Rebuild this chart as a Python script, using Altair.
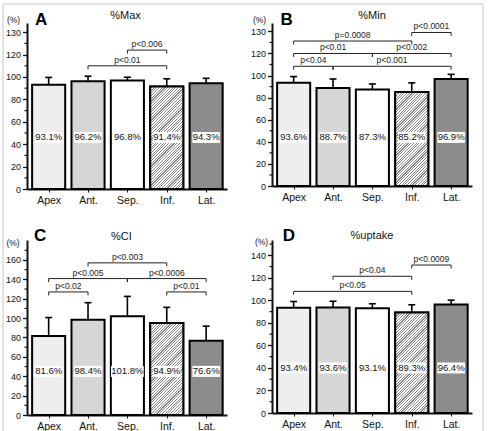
import json
import altair as alt
import pandas as pd

# Segments of the left ventricle and their bar fills
segments = ["Apex", "Ant.", "Sep.", "Inf.", "Lat."]
fills = ["#eeeeee", "#d6d6d6", "#ffffff", "#ffffff", "#8c8c8c"]

# Mean (%) and SD for each index
max_mean = [93.1, 96.2, 96.8, 91.4, 94.3]
max_sd = [6.5, 4.5, 3.0, 7.0, 4.5]
min_mean = [93.6, 88.7, 87.3, 85.2, 96.9]
min_sd = [5.5, 8.2, 5.1, 8.2, 4.2]
ci_mean = [81.6, 98.4, 101.8, 94.9, 76.6]
ci_sd = [19.0, 17.5, 20.6, 16.2, 15.1]
uptake_mean = [93.4, 93.6, 93.1, 89.3, 96.4]
uptake_sd = [5.6, 5.6, 3.9, 6.8, 3.8]

# Significance brackets: (from, to, level, label)
max_pairs = [("Ant.", "Inf.", 110, "p<0.01"), ("Sep.", "Inf.", 124, "p<0.006")]
min_pairs = [("Apex", "Ant.", 108.4, "p<0.04"), ("Ant.", "Lat.", 108.4, "p<0.001"),
             ("Apex", "Sep.", 120, "p<0.01"), ("Sep.", "Lat.", 120, "p<0.002"),
             ("Apex", "Inf.", 131.3, "p=0.0008"), ("Inf.", "Lat.", 139, "p<0.0001")]
ci_pairs = [("Apex", "Ant.", 127, "p<0.02"), ("Inf.", "Lat.", 127, "p<0.01"),
            ("Apex", "Sep.", 140.8, "p<0.005"), ("Sep.", "Lat.", 140.8, "p<0.0006"),
            ("Ant.", "Inf.", 157, "p<0.003")]
uptake_pairs = [("Apex", "Inf.", 108, "p<0.05"), ("Ant.", "Inf.", 121.4, "p<0.04"),
                ("Inf.", "Lat.", 131.4, "p<0.0009")]

FONT = "Liberation Sans"
INK = "#111111"
PLOT_W = 200
X_DOMAIN = [-0.55, 4.53]
X_PPU = PLOT_W / (X_DOMAIN[1] - X_DOMAIN[0])
HALF = 0.42  # half bar width, in category units


def hatch(width_px, height_px, pitch=2.7, ink=0.42, color="#8a8a8a"):
    """Diagonal '///' hatching built from a hard-stop linear gradient."""
    n = max(1, round((width_px + height_px) / pitch))
    k = (width_px + height_px) / (width_px ** 2 + height_px ** 2)
    stops = []
    for j in range(n):
        a, b, c = j / n, (j + 1 - ink) / n, (j + 1) / n
        stops += [alt.GradientStop(color="#ffffff", offset=a),
                  alt.GradientStop(color="#ffffff", offset=b),
                  alt.GradientStop(color=color, offset=b),
                  alt.GradientStop(color=color, offset=c)]
    return alt.LinearGradient(gradient="linear", stops=stops,
                              x1=0, y1=0, x2=k * width_px, y2=k * height_px)


def panel(means, sds, pairs, ymax, height, top_tick, relabel, label_y,
          letter, letter_xy, title, title_xy, pct_xy, frame=False):
    ppu = height / ymax
    idx = {s: i for i, s in enumerate(segments)}

    df = pd.DataFrame({"seg": segments, "i": list(range(5)),
                       "mean": means, "sd": sds})
    df["top"] = df["mean"] + df["sd"]
    df["lo"] = df["i"] - HALF
    df["hi"] = df["i"] + HALF
    df["cap1"] = df["i"] - 3.5 / X_PPU
    df["cap2"] = df["i"] + 3.5 / X_PPU
    df["txt"] = [f"{m:.1f}%" for m in means]
    df["bx1"] = [i - (5.3 * len(t) + 1) / 2 / X_PPU for i, t in zip(df["i"], df["txt"])]
    df["bx2"] = [i + (5.3 * len(t) + 1) / 2 / X_PPU for i, t in zip(df["i"], df["txt"])]
    df["ly"] = label_y
    df["by1"] = label_y - 5.5 / ppu
    df["by2"] = label_y + 5.5 / ppu

    xscale = alt.Scale(domain=X_DOMAIN, nice=False, zero=False)
    yscale = alt.Scale(domain=[0, ymax], nice=False, zero=True)

    relabel_from, relabel_to = relabel if relabel else (-1, "")
    xaxis = alt.Axis(values=list(range(5)),
                     labelExpr=f"{json.dumps(segments)}[datum.value]",
                     title=None, grid=False, labelFlush=False,
                     labelFont=FONT, labelFontSize=10.5, labelColor=INK,
                     labelPadding=3, tickSize=3, tickColor=INK, tickWidth=1,
                     domainColor=INK, domainWidth=2)
    yaxis = alt.Axis(values=list(range(0, top_tick + 1, 20)),
                     labelExpr=f"datum.value == {relabel_from} ? '{relabel_to}' : datum.label",
                     tickSize=4.5, grid=False, labelFlush=False,
                     labelFont=FONT, labelFontSize=9, labelColor=INK, labelPadding=2,
                     tickColor=INK, tickWidth=1.3, domainColor=INK, domainWidth=2,
                     title="(%)", titleAngle=0, titleX=pct_xy[0], titleY=pct_xy[1],
                     titleAlign="center", titleBaseline="middle", titleFont=FONT,
                     titleFontSize=8.5, titleFontWeight="normal", titleColor=INK)

    def X(field):
        return alt.X(field, type="quantitative", scale=xscale, axis=xaxis)

    def Y(field):
        return alt.Y(field, type="quantitative", scale=yscale, axis=yaxis)

    base = alt.Chart(df)
    bars = base.mark_bar(stroke="black", strokeWidth=2, strokeJoin="miter").encode(
        x=X("lo"), x2="hi", y=Y("mean"), y2=alt.datum(0),
        color=alt.Color("seg:N", scale=alt.Scale(domain=segments, range=fills), legend=None),
    )

    inf = df[df["seg"] == "Inf."]
    inf_h = float(inf["mean"].iloc[0]) * ppu
    inf_bar = alt.Chart(inf).mark_bar(
        fill=hatch(2 * HALF * X_PPU, inf_h), stroke="black", strokeWidth=2, strokeJoin="miter"
    ).encode(x=X("lo"), x2="hi", y=Y("mean"), y2=alt.datum(0))

    boxes = base.mark_rect(fill="white").encode(x=X("bx1"), x2="bx2", y=Y("by1"), y2="by2")
    values = base.mark_text(font=FONT, fontSize=9.5, color=INK, baseline="middle").encode(
        x=X("i"), y=Y("ly"), text="txt:N")

    err = base.mark_rule(color="black", strokeWidth=1.6).encode(x=X("i"), y=Y("mean"), y2="top")
    caps = base.mark_rule(color="black", strokeWidth=1.6).encode(x=X("cap1"), x2="cap2", y=Y("top"))

    # minor ticks on the value axis, halfway between the labelled ones
    minor = pd.DataFrame({"v": list(range(10, top_tick + 1, 20))})
    minor_ticks = alt.Chart(minor).mark_rule(color=INK, strokeWidth=1.2).encode(
        x=alt.value(-2.5), x2=alt.value(0), y=Y("v"))

    br = pd.DataFrame({
        "x1": [idx[a] for a, b, lv, t in pairs],
        "x2": [idx[b] for a, b, lv, t in pairs],
        "lvl": [lv for a, b, lv, t in pairs],
        "txt": [t for a, b, lv, t in pairs],
    })
    br["mid"] = (br["x1"] + br["x2"]) / 2
    drop = 3.5 / ppu
    ends = pd.DataFrame({
        "x": list(br["x1"]) + list(br["x2"]),
        "lvl": list(br["lvl"]) * 2,
    })
    ends["low"] = ends["lvl"] - drop

    br_lines = alt.Chart(br).mark_rule(color="#222222", strokeWidth=1).encode(
        x=X("x1"), x2="x2", y=Y("lvl"))
    br_ends = alt.Chart(ends).mark_rule(color="#222222", strokeWidth=1).encode(
        x=X("x"), y=Y("lvl"), y2="low")
    br_text = alt.Chart(br).mark_text(font=FONT, fontSize=8.5, color="#222222",
                                      baseline="bottom", dy=-1).encode(
        x=X("mid"), y=Y("lvl"), text="txt:N")

    one = alt.Chart(pd.DataFrame({"k": [0]}))
    letter_mark = one.mark_text(text=letter, font=FONT, fontSize=17, fontWeight="bold",
                                color="black", align="left", baseline="alphabetic").encode(
        x=alt.value(letter_xy[0]), y=alt.value(letter_xy[1]))
    title_mark = one.mark_text(text=title, font=FONT, fontSize=11, color=INK,
                               align="center", baseline="middle").encode(
        x=alt.value(title_xy[0]), y=alt.value(title_xy[1]))

    layers = [bars, inf_bar, boxes, values, err, caps, minor_ticks,
              br_lines, br_ends, br_text, letter_mark, title_mark]

    if frame:
        edge = dict(color="#c6c6c6", strokeWidth=1)
        layers += [
            one.mark_rule(**edge).encode(x=alt.value(-24), y=alt.value(-19), y2=alt.value(408)),
            one.mark_rule(**edge).encode(x=alt.value(-24), x2=alt.value(456), y=alt.value(-19)),
            one.mark_rule(**edge).encode(x=alt.value(456), y=alt.value(-19), y2=alt.value(408)),
        ]

    return alt.layer(*layers).properties(width=PLOT_W, height=height)


pA = panel(max_mean, max_sd, max_pairs, 148.2, 166, 140, (140, "130"), 46,
           "A", (8, 2), "%Max", (98.5, -7.3), (-14, -3.7), frame=True)
pB = panel(min_mean, min_sd, min_pairs, 147.6, 163, 140, (140, "130"), 44,
           "B", (8.5, 2), "%Min", (100, -7.3), (-13, -3.7))
pC = panel(ci_mean, ci_sd, ci_pairs, 180.6, 175, 170, None, 45,
           "C", (7, 1.3), "%CI", (94.3, -3), (-14.5, 2.7))
pD = panel(uptake_mean, uptake_sd, uptake_pairs, 153.6, 173, 150, None, 40,
           "D", (10.7, 1), "%uptake", (100, -4), (-11, 1))

chart = alt.concat(
    pA, pB, pC, pD, columns=2, spacing={"row": 51, "column": 45},
    bounds="flush", align="each",
).properties(
    padding={"left": 2, "top": 3, "right": 3, "bottom": 0},
    background="white",
).configure_view(stroke=None)

chart.save("out.html", embed_options={"renderer": "svg", "actions": False})
